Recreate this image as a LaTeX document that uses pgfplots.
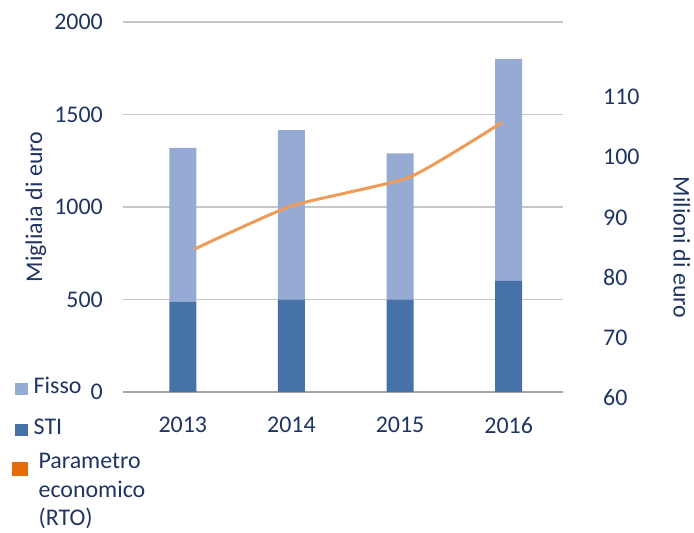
\documentclass[border=0pt]{standalone}
\usepackage{pgfplots}
\pgfplotsset{compat=1.18}
\usepackage{fontspec}
\setmainfont{Carlito}

\definecolor{fisso}{RGB}{149,171,211}
\definecolor{sti}{RGB}{70,114,168}
\definecolor{rto}{RGB}{238,156,88}
\definecolor{rtoleg}{RGB}{228,108,10}
\definecolor{navy}{RGB}{31,52,98}
\definecolor{gridc}{RGB}{198,198,198}

\newcommand{\chartfont}{\fontsize{24}{29}\selectfont}

\begin{document}
\begin{tikzpicture}
\path (-123bp,-141bp) rectangle (571bp,392bp);

% bars, left axis
\begin{axis}[
    at={(0,0)}, anchor=south west,
    width=440bp, height=370bp, scale only axis,
    xmin=-0.55, xmax=3.5, ymin=0, ymax=2000,
    ybar stacked, bar width=27bp,
    axis x line*=bottom, axis y line*=left,
    y axis line style={draw=none},
    x axis line style={draw=gray!70, line width=1.2bp, -},
    xtick={0,1,2,3}, xticklabels={2013,2014,2015,2016},
    ytick={0,500,...,2000},
    ymajorgrids, grid style={gridc, line width=1.2bp},
    major tick length=0pt,
    /pgf/number format/assume math mode=true,
    /pgf/number format/1000 sep={},
    tick label style={font=\chartfont, text=navy},
    yticklabel style={inner sep=0pt, anchor=east, xshift=-20bp},
    xticklabel style={inner sep=0pt, anchor=north, yshift=-25bp},
    ylabel={Migliaia di euro},
    ylabel style={at={(rel axis cs:-0.198,0.5)}, anchor=center, font=\chartfont, text=navy},
    legend style={at={(rel axis cs:-0.252,0.046)}, anchor=north west,
        draw=none, fill=none, font=\chartfont, text=navy,
        nodes={inner sep=0pt, anchor=base west}, column sep=6bp, row sep=24bp},
]
\addlegendimage{legend image code/.code={\fill[fisso] (0bp,-1bp) rectangle (12bp,10bp);}}
\addlegendentry{Fisso}
\addlegendimage{legend image code/.code={\fill[sti] (0bp,-1bp) rectangle (12bp,10bp);}}
\addlegendentry{STI}

\addplot[fill=sti, draw=none] coordinates {(0,488) (1,500) (2,500) (3,600)};
\addplot[fill=fisso, draw=none] coordinates {(0,832) (1,916) (2,790) (3,1200)};
\end{axis}

% line, right axis
\begin{axis}[
    at={(0,-6bp)}, anchor=south west,
    width=440bp, height=376bp, scale only axis, clip=false,
    xmin=-0.55, xmax=3.5, ymin=60, ymax=122.46,
    axis x line=none, axis y line*=right,
    y axis line style={draw=none},
    ytick={60,70,...,110},
    major tick length=0pt,
    /pgf/number format/assume math mode=true,
    tick label style={font=\chartfont, text=navy},
    yticklabel style={inner sep=0pt, anchor=west, xshift=40bp},
    legend style={at={(rel axis cs:-0.259,-0.127)}, anchor=north west,
        draw=none, fill=none, font=\chartfont, text=navy,
        nodes={inner sep=0pt, anchor=base west}, column sep=6bp},
]
\addlegendimage{legend image code/.code={\fill[rtoleg] (-3bp,-7.5bp) rectangle (12bp,5.5bp);}}
\addlegendentry{\begin{tabular}[t]{@{\hspace{5bp}}l@{}}Parametro\\economico\\(RTO)\end{tabular}}
\addplot[rto, line width=3bp, smooth, tension=0.3] coordinates {(0.11,84.75) (1.0,91.9) (2.09,96.7) (2.94,105.8)};
\node[rotate=-90, font=\chartfont, text=navy] at (rel axis cs:1.27,0.40) {Milioni di euro};
\end{axis}
\end{tikzpicture}
\end{document}
